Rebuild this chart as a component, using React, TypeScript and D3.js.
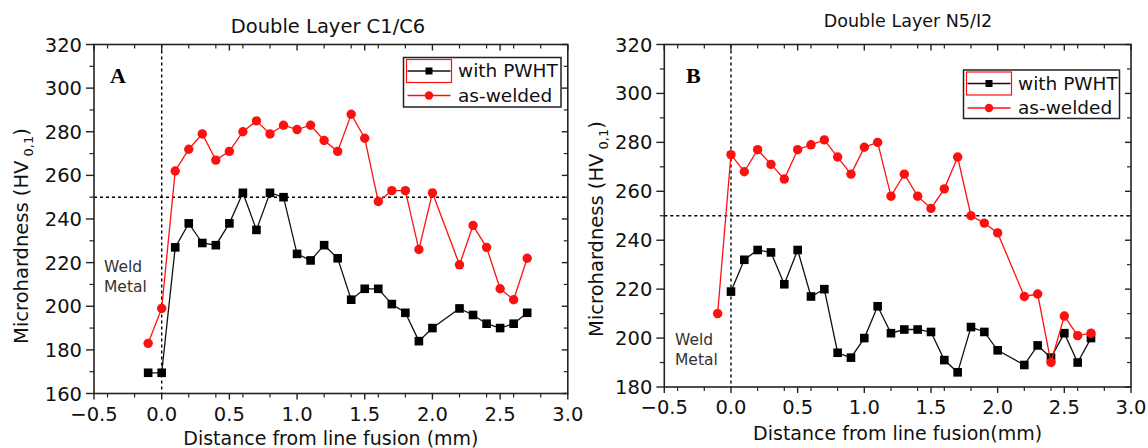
import React from "react";
import { scaleLinear, line, format } from "d3";

// distances (mm) and hardness readings
const distC1C6 = [-0.1, 0, 0.1, 0.2, 0.3, 0.4, 0.5, 0.6, 0.7, 0.8, 0.9, 1.0, 1.1, 1.2, 1.3, 1.4, 1.5, 1.6, 1.7, 1.8, 1.9, 2.0, 2.2, 2.3, 2.4, 2.5, 2.6, 2.7];
const pwhtC1C6 = [169.5, 169.5, 227, 238, 229, 228, 238, 252, 235, 252, 250, 224, 221, 228, 222, 203, 208, 208, 201, 197, 184, 190, 199, 196, 192, 190, 192, 197];
const weldedC1C6 = [183, 199, 262, 272, 279, 267, 271, 280, 285, 279, 283, 281, 283, 276, 271, 288, 277, 248, 253, 253, 226, 252, 219, 237, 227, 208, 203, 222];

const distN5I2Welded = [-0.1, 0, 0.1, 0.2, 0.3, 0.4, 0.5, 0.6, 0.7, 0.8, 0.9, 1.0, 1.1, 1.2, 1.3, 1.4, 1.5, 1.6, 1.7, 1.8, 1.9, 2.0, 2.2, 2.3, 2.4, 2.5, 2.6, 2.7];
const weldedN5I2 = [210, 275, 268, 277, 271, 265, 277, 279, 281, 274, 267, 278, 280, 258, 267, 258, 253, 261, 274, 250, 247, 243, 217, 218, 190, 209, 201, 202];
const distN5I2Pwht = [0, 0.1, 0.2, 0.3, 0.4, 0.5, 0.6, 0.7, 0.8, 0.9, 1.0, 1.1, 1.2, 1.3, 1.4, 1.5, 1.6, 1.7, 1.8, 1.9, 2.0, 2.2, 2.3, 2.4, 2.5, 2.6, 2.7];
const pwhtN5I2 = [219, 232, 236, 235, 222, 236, 217, 220, 194, 192, 200, 213, 202, 203.5, 203.5, 202.5, 191, 186, 204.5, 202.5, 195, 189, 197, 192, 202, 190, 200];

const seriesNames = ["with PWHT", "as-welded"];
const panelTitles = ["Double Layer C1/C6", "Double Layer N5/I2"];
const xTitles = ["Distance from line fusion (mm)", "Distance from line fusion(mm)"];
const panelLetters = ["A", "B"];
const xDomain = [-0.5, 3.0];
const yDomains = [[160, 320], [180, 320]];
const refHardness = 250;

const SANS = "DejaVu Sans, Verdana, sans-serif";
const RED = "#ff1010";

const panels = [
  {
    x0: 94, x1: 567.8, y0: 44.5, y1: 393.5,
    dist: [distC1C6, distC1C6], vals: [pwhtC1C6, weldedC1C6],
    yDomain: yDomains[0], title: panelTitles[0], titleX: 328, titleY: 33, titleSize: 19.5,
    xTitle: xTitles[0], xTitleY: 445, yTitleX: 28, yTitleY: 236,
    letter: panelLetters[0], letterX: 110, letterY: 82.5,
    legend: { x: 403.5, y: 57.5, w: 157.5, h: 49.5 },
    weld: { x: 104, y: 271.5 },
  },
  {
    x0: 664.3, x1: 1131, y0: 44.5, y1: 387,
    dist: [distN5I2Pwht, distN5I2Welded], vals: [pwhtN5I2, weldedN5I2],
    yDomain: yDomains[1], title: panelTitles[1], titleX: 908, titleY: 27, titleSize: 17.5,
    xTitle: xTitles[1], xTitleY: 440, yTitleX: 603, yTitleY: 229,
    letter: panelLetters[1], letterX: 686, letterY: 82.5,
    legend: { x: 963.5, y: 70, w: 156, h: 48.5 },
    weld: { x: 675, y: 344.5 },
  },
];

const fmtX = format(".1f");

function Panel({ p }) {
  const x = scaleLinear().domain(xDomain).range([p.x0, p.x1]);
  const y = scaleLinear().domain(p.yDomain).range([p.y1, p.y0]);
  const xMajor = x.ticks(7);
  const xMinor = x.ticks(14).filter((t) => !xMajor.some((m) => Math.abs(m - t) < 1e-9));
  const yMajor = y.ticks(8);
  const yMinor = y.ticks(16).filter((t) => !yMajor.some((m) => Math.abs(m - t) < 1e-9));
  const path = line<[number, number]>().x((d) => x(d[0])).y((d) => y(d[1]));
  const pts = (i) => p.dist[i].map((d, j) => [d, p.vals[i][j]] as [number, number]);
  const lg = p.legend;

  return (
    <g>
      <text x={p.titleX} y={p.titleY} textAnchor="middle" fontFamily={SANS} fontSize={p.titleSize} fill="#111">{p.title}</text>

      {/* reference lines */}
      <line x1={x(0)} x2={x(0)} y1={p.y0} y2={p.y1} stroke="#000" strokeWidth={1.4} strokeDasharray="3 3" />
      <line x1={p.x0} x2={p.x1} y1={y(refHardness)} y2={y(refHardness)} stroke="#000" strokeWidth={1.4} strokeDasharray="3 3" />

      {/* frame */}
      <rect x={p.x0} y={p.y0} width={p.x1 - p.x0} height={p.y1 - p.y0} fill="none" stroke="#222" strokeWidth={1.6} />

      {/* bottom + top ticks */}
      {xMajor.map((t) => (
        <g key={"xm" + t}>
          <line x1={x(t)} x2={x(t)} y1={p.y1} y2={p.y1 + 6} stroke="#222" strokeWidth={1.4} />
          <line x1={x(t)} x2={x(t)} y1={p.y0} y2={p.y0 + 6} stroke="#222" strokeWidth={1.4} />
          <text x={x(t)} y={p.y1 + 27} textAnchor="middle" fontFamily={SANS} fontSize={19.5} fill="#111">{fmtX(t)}</text>
        </g>
      ))}
      {xMinor.map((t) => (
        <g key={"xn" + t}>
          <line x1={x(t)} x2={x(t)} y1={p.y1} y2={p.y1 + 4} stroke="#222" strokeWidth={1.2} />
          <line x1={x(t)} x2={x(t)} y1={p.y0} y2={p.y0 + 4} stroke="#222" strokeWidth={1.2} />
        </g>
      ))}

      {/* left + right ticks */}
      {yMajor.map((t) => (
        <g key={"ym" + t}>
          <line x1={p.x0 - 8} x2={p.x0} y1={y(t)} y2={y(t)} stroke="#222" strokeWidth={1.4} />
          <line x1={p.x1 - 6} x2={p.x1} y1={y(t)} y2={y(t)} stroke="#222" strokeWidth={1.4} />
          <text x={p.x0 - 12} y={y(t)} dy="0.36em" textAnchor="end" fontFamily={SANS} fontSize={19.5} fill="#111">{t}</text>
        </g>
      ))}
      {yMinor.map((t) => (
        <g key={"yn" + t}>
          <line x1={p.x0 - 4.5} x2={p.x0} y1={y(t)} y2={y(t)} stroke="#222" strokeWidth={1.2} />
          <line x1={p.x1 - 4} x2={p.x1} y1={y(t)} y2={y(t)} stroke="#222" strokeWidth={1.2} />
        </g>
      ))}

      {/* axis titles */}
      <text x={(p.x0 + p.x1) / 2} y={p.xTitleY} textAnchor="middle" fontFamily={SANS} fontSize={19} fill="#111">{p.xTitle}</text>
      <text transform={`translate(${p.yTitleX},${p.yTitleY}) rotate(-90)`} textAnchor="middle" fontFamily={SANS} fontSize={19.5} fill="#111">
        Microhardness (HV
        <tspan fontSize={13} dy={5}> 0,1</tspan>
        <tspan dy={-5}>)</tspan>
      </text>

      {/* annotations */}
      <text x={p.letterX} y={p.letterY} fontFamily="Liberation Serif, Times New Roman, serif" fontWeight="bold" fontSize={22} fill="#000">{p.letter}</text>
      <text x={p.weld.x} y={p.weld.y} fontFamily={SANS} fontSize={15.5} fill="#333">Weld</text>
      <text x={p.weld.x} y={p.weld.y + 20} fontFamily={SANS} fontSize={15.5} fill="#333">Metal</text>

      {/* series */}
      <path d={path(pts(0)) || ""} fill="none" stroke="#111" strokeWidth={1.3} />
      {pts(0).map((d, i) => (
        <rect key={"s" + i} x={x(d[0]) - 4.3} y={y(d[1]) - 4.3} width={8.6} height={8.6} fill="#000" />
      ))}
      <path d={path(pts(1)) || ""} fill="none" stroke={RED} strokeWidth={1.3} />
      {pts(1).map((d, i) => (
        <circle key={"c" + i} cx={x(d[0])} cy={y(d[1])} r={4.7} fill={RED} />
      ))}

      {/* legend */}
      <rect x={lg.x} y={lg.y} width={lg.w} height={lg.h} fill="#fff" stroke="#222" strokeWidth={1.5} />
      <rect x={lg.x + 3} y={lg.y + 2} width={45} height={23} fill="none" stroke={RED} strokeWidth={1.2} />
      <line x1={lg.x + 4} x2={lg.x + 47} y1={lg.y + 13.5} y2={lg.y + 13.5} stroke="#111" strokeWidth={1.3} />
      <rect x={lg.x + 22} y={lg.y + 10} width={7} height={7} fill="#000" />
      <text x={lg.x + 54.5} y={lg.y + 19.5} fontFamily={SANS} fontSize={18.5} fill="#111">{seriesNames[0]}</text>
      <line x1={lg.x + 4} x2={lg.x + 47} y1={lg.y + 38} y2={lg.y + 38} stroke={RED} strokeWidth={1.3} />
      <circle cx={lg.x + 25.5} cy={lg.y + 38} r={4.2} fill={RED} />
      <text x={lg.x + 54.5} y={lg.y + 44} fontFamily={SANS} fontSize={18.5} fill="#111">{seriesNames[1]}</text>
    </g>
  );
}

export default function App() {
  return (
    <svg width={1148} height={448} style={{ position: "absolute", left: 0, top: 0, background: "#fff" }}>
      <rect width={1148} height={448} fill="#fff" />
      {panels.map((p, i) => (
        <Panel key={i} p={p} />
      ))}
    </svg>
  );
}
